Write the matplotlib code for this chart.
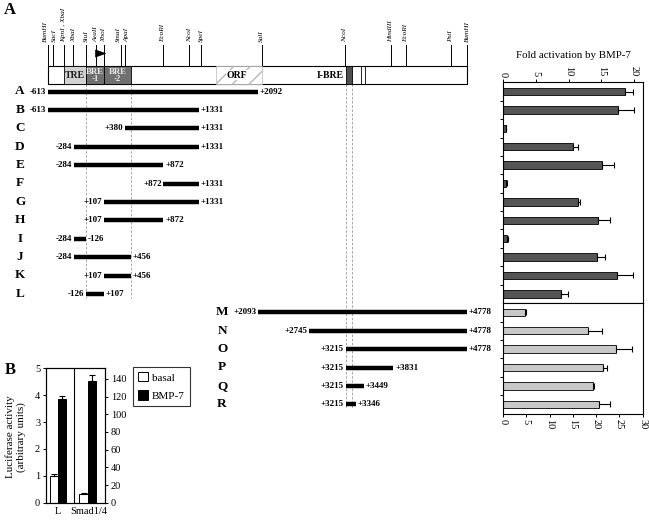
import matplotlib
matplotlib.use('Agg')
import matplotlib.pyplot as plt
from matplotlib.patches import Rectangle, Polygon, Patch

plt.rcParams['font.family'] = ['Liberation Serif', 'DejaVu Serif']

# ---------------- data ----------------
site_names = ['BamHI', 'SacI', 'KpnI , XbaI', 'XbaI', 'StuI', 'AvaII', 'XhoI', 'SmaI', 'ApaI',
              'EcoRI', 'NcoI', 'SpeI', 'SalI', 'NcoI', 'HindIII', 'EcoRI', 'PstI', 'BamHI']
site_pos = [-613, -553, -411, -287, -124, -1, 104, 322, 374,
            863, 1205, 1356, 2137, 3208, 3796, 3989, 4572, 4778]

region_names = ['TRE', 'BRE\n-1', 'BRE\n-2', 'I-BRE']
region_start = [-411, -126, 107, 3215]
region_end = [-126, 107, 456, 3300]
orf_span = [1549, 2137]

constructs = list('ABCDEFGHIJKLMNOPQR')
starts = [-613, -613, 380, -284, -284, 872, 107, 107, -284, -284, 107, -126,
          2093, 2745, 3215, 3215, 3215, 3215]
ends = [2092, 1331, 1331, 1331, 872, 1331, 1331, 872, -126, 456, 456, 107,
        4778, 4778, 4778, 3831, 3449, 3346]

fold = [18.6, 17.5, 0.4, 10.7, 15.1, 0.5, 11.4, 14.5, 0.6, 14.3, 17.4, 8.9,
        4.7, 18.3, 24.3, 21.5, 19.4, 20.6]
fold_err = [1.15, 2.5, 0.1, 0.8, 1.9, 0.1, 0.3, 1.8, 0.1, 1.3, 2.4, 1.0,
            0.3, 3.0, 3.3, 0.9, 0.2, 2.3]
n_top = 12

groups = ['L', 'Smad1/4']
basal = [1.0, 10.0]
basal_err = [0.05, 1.0]
bmp7 = [3.85, 138.0]
bmp7_err = [0.13, 6.0]

# ---------------- layout ----------------
W, H = 649, 521
fig = plt.figure(figsize=(W / 100, H / 100), dpi=100)

bp_per_px = 5391 / 419
def px2bp(px):
    return -613 + (px - 48) * bp_per_px

ax0 = fig.add_axes([0, 0, 1, 1])
ax0.set_xlim(px2bp(0), px2bp(W))
ax0.set_ylim(H, 0)
ax0.axis('off')

box_top, box_bot = 66, 84
row0, pitch = 82.3, 18.4
def rowy(i):
    return row0 + (i + 0.5) * pitch

# dashed guide lines
for x in (-126, 456):
    ax0.plot([x, x], [box_bot, rowy(11) + 4], ls=(0, (3, 2)), color='#9a9a9a', lw=0.6, zorder=1)
for x in (3215, 3300):
    ax0.plot([x, x], [box_bot, rowy(17) + 4], ls=(0, (3, 2)), color='#9a9a9a', lw=0.6, zorder=1)

# map box
ax0.add_patch(Rectangle((site_pos[0], box_top), site_pos[-1] - site_pos[0], box_bot - box_top,
                        facecolor='white', edgecolor='black', lw=0.8, zorder=2))
ax0.add_patch(Rectangle((orf_span[0], box_top), orf_span[1] - orf_span[0], box_bot - box_top,
                        facecolor='white', edgecolor='#b8b8b8', hatch='//', lw=0.5, zorder=2.1))
ax0.text(orf_span[0] + (orf_span[1] - orf_span[0]) * 0.45, (box_top + box_bot) / 2, 'ORF',
         ha='center', va='center', fontsize=7, fontweight='bold', zorder=3,
         bbox=dict(facecolor='white', edgecolor='none', pad=0.5))
fills = ['#d2d2d2', '#707070', '#707070', '#505050']
for nm, s, e, fc in zip(region_names, region_start, region_end, fills):
    ax0.add_patch(Rectangle((s, box_top), e - s, box_bot - box_top, facecolor=fc,
                            edgecolor='black', lw=0.6, zorder=2.5))
    if nm == 'I-BRE':
        ax0.text(s - 2 * bp_per_px, (box_top + box_bot) / 2, nm, ha='right', va='center',
                 fontsize=7, fontweight='bold', zorder=3)
    elif nm == 'TRE':
        ax0.text((s + e) / 2, (box_top + box_bot) / 2 + 0.5, nm, ha='center', va='center',
                 fontsize=7, fontweight='bold', color='#202020', zorder=3)
    else:
        ax0.text((s + e) / 2, (box_top + box_bot) / 2 + 0.5, nm, ha='center', va='center',
                 fontsize=6.3, fontweight='bold', color='#e8e8e8', zorder=3, linespacing=0.95)
for x in (3415, 3470):
    ax0.plot([x, x], [box_top, box_bot], color='black', lw=0.6, zorder=3)

# restriction sites (label nudges in pixels keep crowded labels apart)
label_nudge = [-2.2, 2.0, 0, 0, 0, 0, 0, -2.2, 2.2, 0, 0, 0, 0, 0, 0, 0, 0, 0]
for nm, x, dx in zip(site_names, site_pos, label_nudge):
    ax0.plot([x, x], [45, box_top], color='black', lw=0.7, zorder=2)
    ax0.text(x + dx * bp_per_px, 42, nm, rotation=90, ha='center', va='bottom', fontsize=5.2,
             fontstyle='italic')
# transcription start flag at AvaII
xa = site_pos[5]
ax0.add_patch(Polygon([[xa, 50], [xa, 57], [xa + 10 * bp_per_px, 53.5]], closed=True,
                      facecolor='black', edgecolor='black', lw=0.5, zorder=3))

fig.text(10 / W, 1 - 10 / H, 'A', ha='center', va='center', fontsize=12, fontweight='bold')
fig.text(10 / W, 1 - 370 / H, 'B', ha='center', va='center', fontsize=12, fontweight='bold')

# constructs
def fmt(v):
    return f'{v:+d}'
for i, (c, s, e) in enumerate(zip(constructs, starts, ends)):
    y = rowy(i)
    ax0.plot([s, e], [y, y], color='black', lw=3.2, solid_capstyle='butt', zorder=4)
    ax0.annotate(fmt(s), (s, y), xytext=(-1.2, 0), textcoords='offset points',
                 ha='right', va='center', fontsize=6.5, fontweight='bold')
    ax0.annotate(fmt(e), (e, y), xytext=(1.2, 0), textcoords='offset points',
                 ha='left', va='center', fontsize=6.5, fontweight='bold')
    lx = 20 if i < n_top else 222
    ax0.text(px2bp(lx), y, c, ha='center', va='center', fontsize=9.5, fontweight='bold')

# ---------------- fold activation bars ----------------
left = 503 / W
width = (642.7 - 503) / W
top_y0, top_y1 = row0, row0 + n_top * pitch
bot_y1 = row0 + len(constructs) * pitch
axT = fig.add_axes([left, 1 - top_y1 / H, width, (top_y1 - top_y0) / H])
axB = fig.add_axes([left, 1 - bot_y1 / H, width, (bot_y1 - top_y1) / H])

ekw = dict(ecolor='black', lw=0.8, capsize=2.2, capthick=0.8)
yT = list(range(n_top))
axT.barh(yT, fold[:n_top], height=0.4, color='#555555', edgecolor='black', lw=0.6,
         xerr=[[0] * n_top, fold_err[:n_top]], error_kw=ekw)
axT.set_ylim(n_top - 0.5, -0.5)
axT.set_xlim(0, 21.3)
axT.xaxis.tick_top()
axT.set_xticks([0, 5, 10, 15, 20])
axT.set_xticklabels(['0', '5', '10', '15', '20'], rotation=-90, fontsize=7.5)
axT.tick_params(axis='x', direction='out', length=2.5, width=0.7, pad=1.5)

nb = len(constructs) - n_top
yB = list(range(nb))
axB.barh(yB, fold[n_top:], height=0.4, color='#c8c8c8', edgecolor='black', lw=0.6,
         xerr=[[0] * nb, fold_err[n_top:]], error_kw=ekw)
axB.set_ylim(nb - 0.5, -0.5)
axB.set_xlim(0, 30)
axB.set_xticks([0, 5, 10, 15, 20, 25, 30])
axB.set_xticklabels(['0', '5', '10', '15', '20', '25', '30'], rotation=-90, fontsize=7.5)
axB.tick_params(axis='x', direction='out', length=2.5, width=0.7, pad=1.5)

for ax, n in ((axT, n_top), (axB, nb)):
    ax.set_yticks([i + 0.5 for i in range(n - 1)])
    ax.set_yticklabels([])
    ax.tick_params(axis='y', direction='out', length=2.5, width=0.7)
    for sp in ax.spines.values():
        sp.set_linewidth(0.8)

fig.text(573 / W, 1 - 55 / H, 'Fold activation by BMP-7', ha='center', va='center', fontsize=7.8)

# ---------------- panel B ----------------
axL = fig.add_axes([45.7 / W, 1 - 502.7 / H, (105.3 - 45.7) / W, (502.7 - 368.3) / H])
axR = axL.twinx()
bw = 0.28
ekw2 = dict(ecolor='black', lw=0.8, capsize=2, capthick=0.8)
axL.bar([0 + 0.27], [basal[0]], width=bw, color='white', edgecolor='black', lw=0.7,
        yerr=[[0], [basal_err[0]]], error_kw=ekw2)
axL.bar([0 + 0.55], [bmp7[0]], width=bw, color='black', edgecolor='black', lw=0.7,
        yerr=[[0], [bmp7_err[0]]], error_kw=ekw2)
axR.bar([1 + 0.27], [basal[1]], width=bw, color='white', edgecolor='black', lw=0.7,
        yerr=[[0], [basal_err[1]]], error_kw=ekw2)
axR.bar([1 + 0.55], [bmp7[1]], width=bw, color='black', edgecolor='black', lw=0.7,
        yerr=[[0], [bmp7_err[1]]], error_kw=ekw2)
axL.set_xlim(0, 2)
axL.set_ylim(0, 5)
axR.set_ylim(0, 152)
axL.axvline(0.95, color='black', lw=0.8)
axL.set_yticks([0, 1, 2, 3, 4, 5])
axL.set_yticklabels(['0', '1', '2', '3', '4', '5'], fontsize=7.5)
axR.set_yticks(list(range(0, 141, 20)))
axR.set_yticklabels([str(v) for v in range(0, 141, 20)], fontsize=7.5)
axL.tick_params(axis='y', direction='out', length=2.5, width=0.7, pad=1.5)
axR.tick_params(axis='y', direction='out', length=2.5, width=0.7, pad=1.5)
axL.set_xticks([0.41, 1.44])
axL.set_xticklabels(groups, fontsize=7.5)
axL.tick_params(axis='x', length=0, pad=3)
for ax in (axL, axR):
    for sp in ax.spines.values():
        sp.set_linewidth(0.8)
fig.text(16 / W, 1 - 437 / H, 'Luciferase activity\n(arbitrary units)', rotation=90,
         ha='center', va='center', fontsize=8, linespacing=1.2)

handles = [Patch(facecolor='white', edgecolor='black', lw=0.7, label='basal'),
           Patch(facecolor='black', edgecolor='black', lw=0.7, label='BMP-7')]
leg = fig.legend(handles=handles, loc='upper left', bbox_to_anchor=(132.7 / W, 1 - 366.7 / H),
                 fontsize=8, frameon=True, fancybox=False, handlelength=0.9, handleheight=0.9,
                 handletextpad=0.3, borderpad=0.5, labelspacing=0.7, borderaxespad=0)
leg.get_frame().set_edgecolor('black')
leg.get_frame().set_linewidth(0.8)

fig.savefig('out.png', dpi=100)
